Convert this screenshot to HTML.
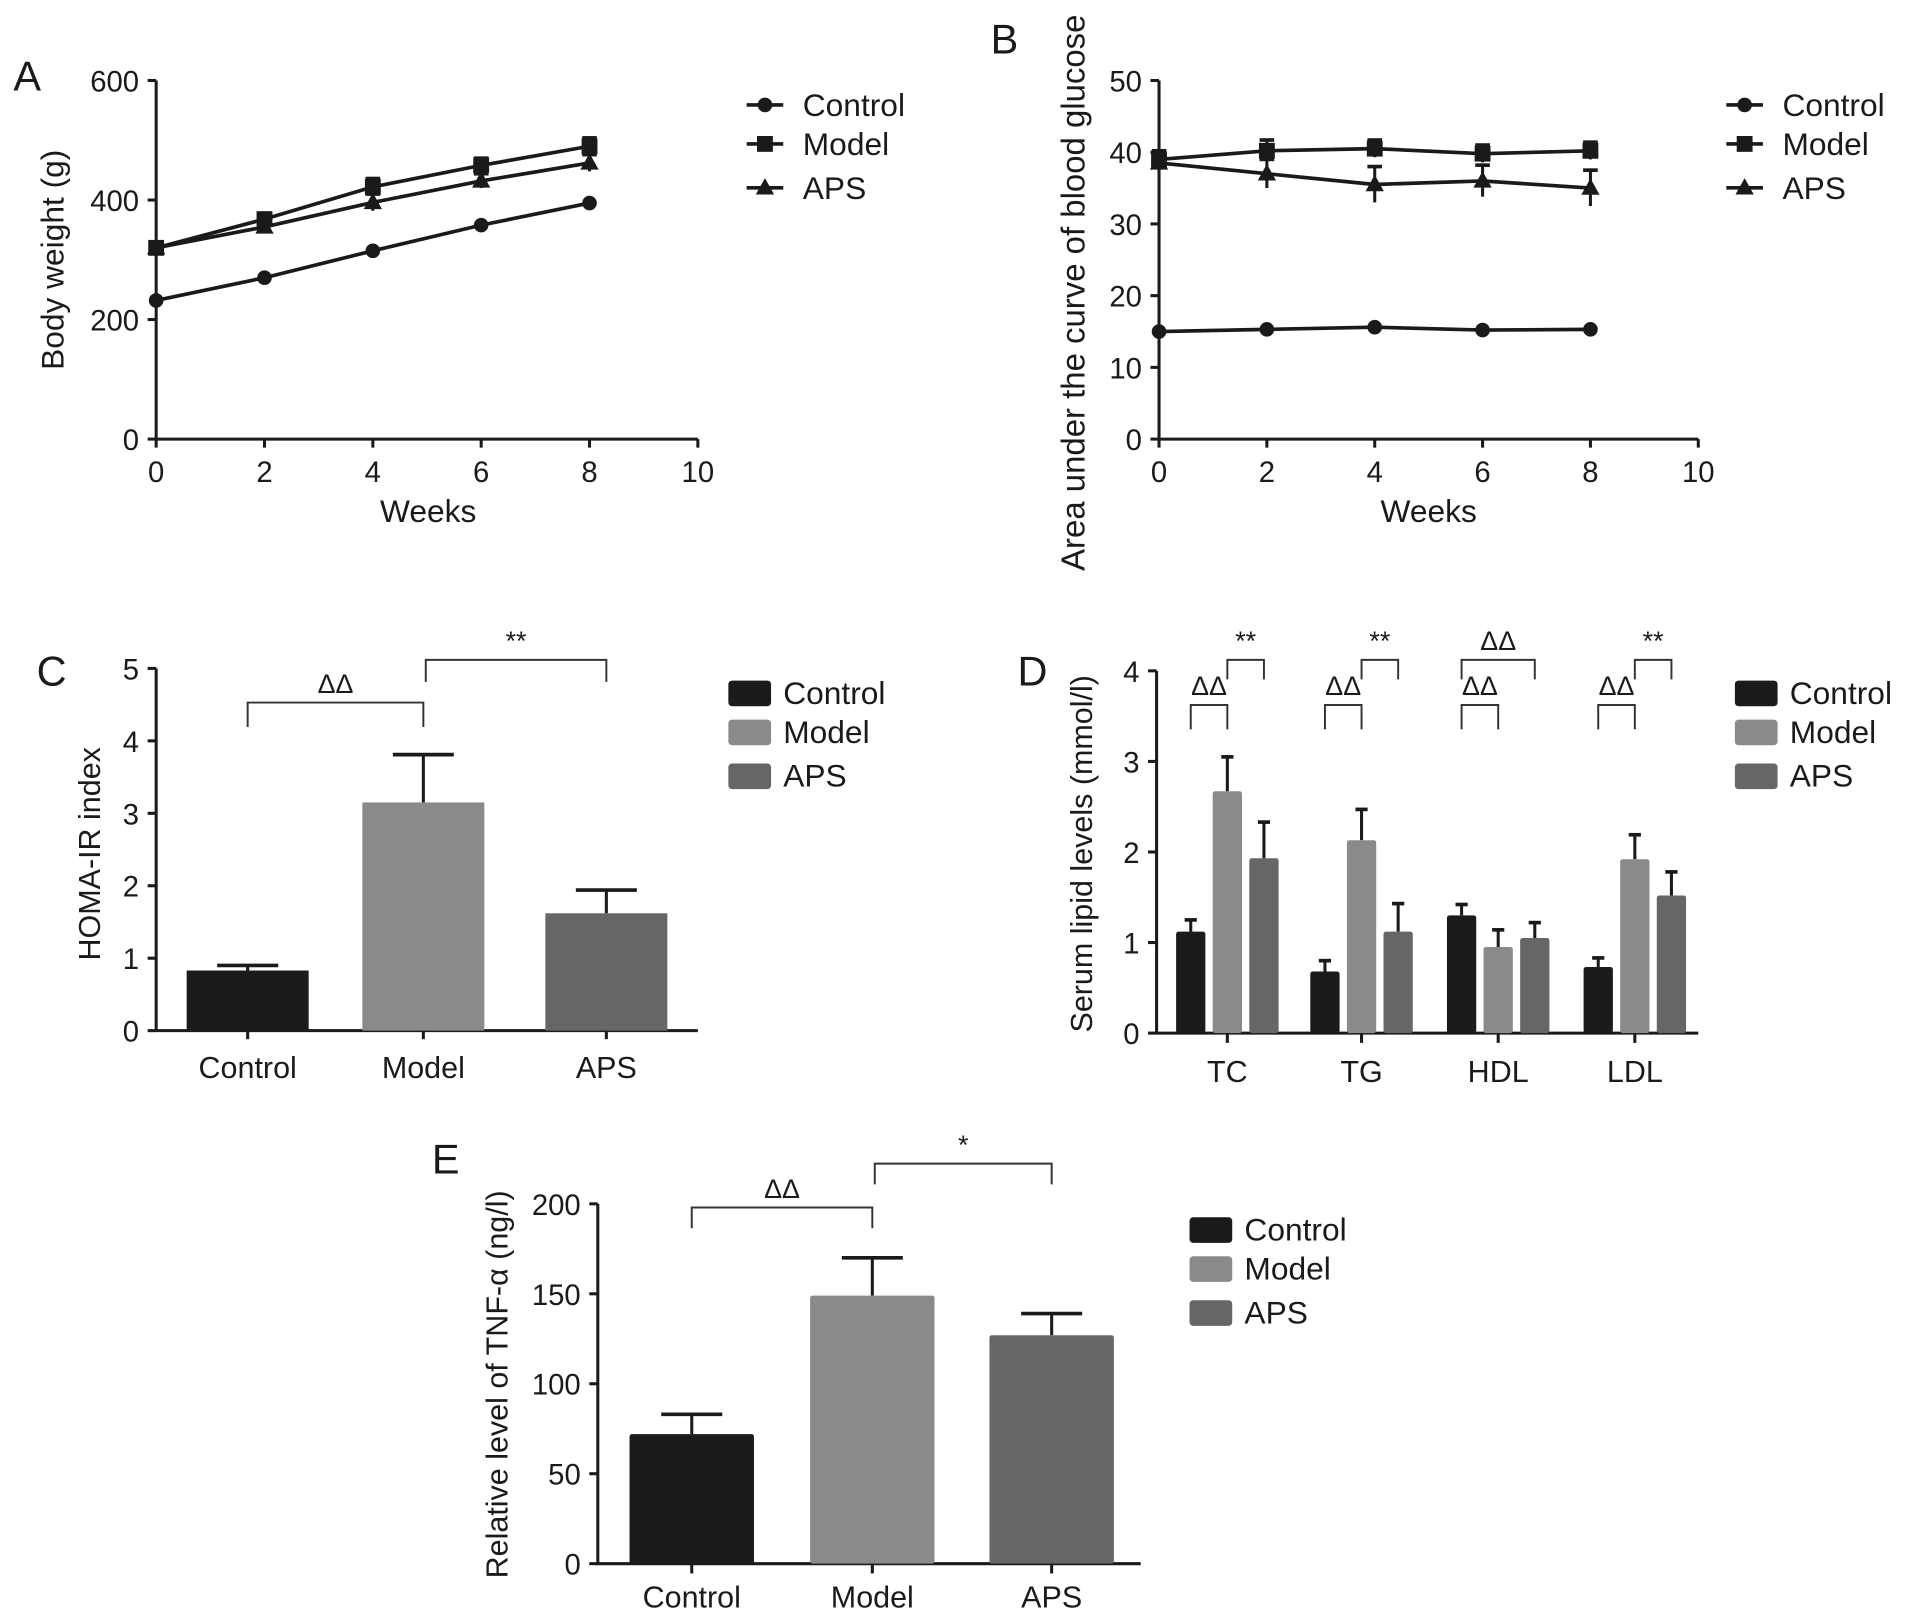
<!DOCTYPE html>
<html><head><meta charset="utf-8"><style>
html,body{margin:0;padding:0;background:#fff;}
svg{display:block;}
text{font-family:"Liberation Sans Narrow","Liberation Sans",sans-serif;fill:#1a1a1a;}
</style></head>
<body>
<svg id="fig" width="1913" height="1621" viewBox="0 0 1568 1329" preserveAspectRatio="none" xmlns="http://www.w3.org/2000/svg"></svg>
<script>
// ---- Panel A data ----
const weeksA = [0, 2, 4, 6, 8];
const bwControl = [232, 270, 315, 358, 395];
const bwModel = [320, 368, 422, 458, 490];
const bwAPS = [320, 355, 396, 432, 462];
const bwErr = [8, 10, 14, 12, 14];
const ticksA = [0, 200, 400, 600];
// ---- Panel B data ----
const aucControl = [15, 15.3, 15.6, 15.2, 15.3];
const aucModel = [39, 40.2, 40.5, 39.8, 40.2];
const aucAPS = [38.5, 37, 35.5, 36, 35];
const aucErrModel = [1.2, 1.5, 1.2, 1.2, 1.2];
const aucErrAPS = [1.2, 2, 2.5, 2.2, 2.5];
const ticksB = [0, 10, 20, 30, 40, 50];
const xTicks = [0, 2, 4, 6, 8, 10];
// ---- Panel C data ----
const groups = ["Control", "Model", "APS"];
const homaVals = [0.83, 3.15, 1.62];
const homaErr = [0.07, 0.66, 0.32];
const ticksC = [0, 1, 2, 3, 4, 5];
// ---- Panel D data ----
const lipidCats = ["TC", "TG", "HDL", "LDL"];
const lipidControl = [1.12, 0.68, 1.3, 0.73];
const lipidModel = [2.67, 2.13, 0.95, 1.92];
const lipidAPS = [1.93, 1.12, 1.05, 1.52];
const lipidErrControl = [0.13, 0.12, 0.12, 0.1];
const lipidErrModel = [0.38, 0.34, 0.19, 0.27];
const lipidErrAPS = [0.4, 0.31, 0.17, 0.26];
const ticksD = [0, 1, 2, 3, 4];
// ---- Panel E data ----
const tnfVals = [72, 149, 127];
const tnfErr = [11, 21, 12];
const ticksE = [0, 50, 100, 150, 200];

const colors = ["#1b1b1b", "#8a8a8a", "#666666"];
const NS = "http://www.w3.org/2000/svg";
const svg = document.getElementById("fig");

function mk(tag, attrs, name, parent) {
  const el = document.createElementNS(NS, tag);
  for (const k in attrs) el.setAttribute(k, attrs[k]);
  
  
  (parent || svg).appendChild(el);
  return el;
}
function txt(x, y, s, size, name, anchor, rot) {
  const a = {x: x, y: y, "font-size": size, "text-anchor": anchor || "middle"};
  if (rot) a.transform = "rotate(-90 " + x + " " + y + ")";
  const t = mk("text", a, name);
  t.textContent = s;
  return t;
}
function line(x1, y1, x2, y2, name, w, col) {
  return mk("line", {x1: x1, y1: y1, x2: x2, y2: y2, stroke: col || "#1a1a1a", "stroke-width": w || 2.5}, name);
}
function lin(d0, d1, r0, r1) { return v => r0 + (v - d0) / (d1 - d0) * (r1 - r0); }

function marker(type, x, y, name) {
  if (type === 0) mk("circle", {cx: x, cy: y, r: 6, fill: "#1a1a1a"}, name);
  else if (type === 1) mk("rect", {x: x - 6.5, y: y - 6.5, width: 13, height: 13, fill: "#1a1a1a"}, name);
  else mk("polygon", {points: (x) + "," + (y - 8) + " " + (x + 7.5) + "," + (y + 5.5) + " " + (x - 7.5) + "," + (y + 5.5), fill: "#1a1a1a"}, name);
}
function legendLines(x, ys, name) {
  const labels = ["Control", "Model", "APS"];
  labels.forEach((l, i) => {
    line(x, ys[i], x + 30, ys[i], name + "-line-" + l.toLowerCase(), 3);
    marker(i, x + 15, ys[i], name + "-marker-" + l.toLowerCase());
    txt(x + 46, ys[i] + 9, l, 26, name + "-label-" + l.toLowerCase(), "start");
  });
}
function legendBars(x, ys, name) {
  const labels = ["Control", "Model", "APS"];
  labels.forEach((l, i) => {
    mk("rect", {x: x, y: ys[i] - 10, width: 35, height: 21, rx: 3, fill: colors[i]}, name + "-swatch-" + l.toLowerCase());
    txt(x + 45, ys[i] + 9, l, 26, name + "-label-" + l.toLowerCase(), "start");
  });
}
function errBar(x, y0, y1, cap, name) {
  line(x, y0, x, y1, name, 2.5);
  line(x - cap, y1, x + cap, y1, name + "-cap", 3);
}
function bracket(x1, x2, y, drop, label, name, lsize) {
  mk("polyline", {points: x1 + "," + (y + drop) + " " + x1 + "," + y + " " + x2 + "," + y + " " + x2 + "," + (y + drop), fill: "none", stroke: "#333", "stroke-width": 1.6}, name);
  txt((x1 + x2) / 2, y - 8, label, lsize || 22, name + "-label");
}

// ================= Panel A =================
(function () {
  const X = lin(0, 10, 128, 572), Y = lin(0, 600, 360, 66);
  txt(11, 74, "A", 34, "panel-a-letter", "start");
  line(128, 66, 128, 361, "panel-a-y-axis");
  line(127, 360, 572, 360, "panel-a-x-axis");
  ticksA.forEach(t => { line(121, Y(t), 128, Y(t), "panel-a-y-tick"); txt(114, Y(t) + 9, String(t), 24, "panel-a-y-tick-label", "end"); });
  xTicks.forEach(t => { line(X(t), 360, X(t), 367, "panel-a-x-tick"); txt(X(t), 395, String(t), 24, "panel-a-x-tick-label"); });
  txt(351, 428, "Weeks", 26, "panel-a-x-axis-title");
  txt(52, 213, "Body weight (g)", 26, "panel-a-y-axis-title", "middle", true);
  const series = [bwControl, bwModel, bwAPS];
  series.forEach((s, si) => {
    const nm = ["control", "model", "aps"][si];
    mk("polyline", {points: weeksA.map((w, i) => X(w) + "," + Y(s[i])).join(" "), fill: "none", stroke: "#1a1a1a", "stroke-width": 3}, "panel-a-line-" + nm);
    weeksA.forEach((w, i) => {
      if (si > 0) errBar(X(w), Y(s[i] - bwErr[i]), Y(s[i] + bwErr[i]), 6, "panel-a-error-" + nm);
      marker(si, X(w), Y(s[i]), "panel-a-point-" + nm);
    });
  });
  legendLines(612, [86, 118, 154], "panel-a-legend");
})();

// ================= Panel B =================
(function () {
  const X = lin(0, 10, 950, 1392), Y = lin(0, 50, 360, 66);
  txt(812, 44, "B", 34, "panel-b-letter", "start");
  line(950, 66, 950, 361, "panel-b-y-axis");
  line(949, 360, 1392, 360, "panel-b-x-axis");
  ticksB.forEach(t => { line(943, Y(t), 950, Y(t), "panel-b-y-tick"); txt(936, Y(t) + 9, String(t), 24, "panel-b-y-tick-label", "end"); });
  xTicks.forEach(t => { line(X(t), 360, X(t), 367, "panel-b-x-tick"); txt(X(t), 395, String(t), 24, "panel-b-x-tick-label"); });
  txt(1171, 428, "Weeks", 26, "panel-b-x-axis-title");
  txt(889, 240, "Area under the curve of blood glucose", 27, "panel-b-y-axis-title", "middle", true);
  const series = [aucControl, aucModel, aucAPS];
  const errs = [null, aucErrModel, aucErrAPS];
  series.forEach((s, si) => {
    const nm = ["control", "model", "aps"][si];
    mk("polyline", {points: weeksA.map((w, i) => X(w) + "," + Y(s[i])).join(" "), fill: "none", stroke: "#1a1a1a", "stroke-width": 3}, "panel-b-line-" + nm);
    weeksA.forEach((w, i) => {
      if (errs[si]) errBar(X(w), Y(s[i] - errs[si][i]), Y(s[i] + errs[si][i]), 6, "panel-b-error-" + nm);
      marker(si, X(w), Y(s[i]), "panel-b-point-" + nm);
    });
  });
  legendLines(1415, [86, 118, 154], "panel-b-legend");
})();

// ================= Panel C =================
(function () {
  const Y = lin(0, 5, 845, 548);
  const cx = [203, 347, 497];
  txt(30, 562, "C", 34, "panel-c-letter", "start");
  line(128, 548, 128, 846, "panel-c-y-axis");
  line(127, 845, 572, 845, "panel-c-x-axis");
  ticksC.forEach(t => { line(121, Y(t), 128, Y(t), "panel-c-y-tick"); txt(114, Y(t) + 9, String(t), 24, "panel-c-y-tick-label", "end"); });
  txt(82, 700, "HOMA-IR index", 25, "panel-c-y-axis-title", "middle", true);
  groups.forEach((g, i) => {
    const y = Y(homaVals[i]);
    errBar(cx[i], y, Y(homaVals[i] + homaErr[i]), 25, "panel-c-error-" + g.toLowerCase());
    mk("rect", {x: cx[i] - 50, y: y, width: 100, height: 845 - y, fill: colors[i]}, "panel-c-bar-" + g.toLowerCase());
    line(cx[i], 845, cx[i], 852, "panel-c-x-tick");
    txt(cx[i], 884, g, 25, "panel-c-x-tick-label");
  });
  bracket(cx[0], cx[1], 576, 20, "ΔΔ", "panel-c-sig-control-model");
  bracket(cx[1] + 2, cx[2], 541, 18, "**", "panel-c-sig-model-aps");
  legendBars(597, [568, 600, 636], "panel-c-legend");
})();

// ================= Panel D =================
(function () {
  const Y = lin(0, 4, 847, 550);
  const gx = [1006, 1116, 1228, 1340];
  const off = [-30, 0, 30];
  const bw = 24;
  txt(834, 562, "D", 34, "panel-d-letter", "start");
  line(948, 550, 948, 848, "panel-d-y-axis");
  line(947, 847, 1392, 847, "panel-d-x-axis");
  ticksD.forEach(t => { line(941, Y(t), 948, Y(t), "panel-d-y-tick"); txt(934, Y(t) + 9, String(t), 24, "panel-d-y-tick-label", "end"); });
  txt(895, 700, "Serum lipid levels (mmol/l)", 25, "panel-d-y-axis-title", "middle", true);
  const vals = [lipidControl, lipidModel, lipidAPS];
  const errs = [lipidErrControl, lipidErrModel, lipidErrAPS];
  lipidCats.forEach((c, ci) => {
    vals.forEach((s, si) => {
      const x = gx[ci] + off[si], y = Y(s[ci]);
      errBar(x, y, Y(s[ci] + errs[si][ci]), 5, "panel-d-error-" + c.toLowerCase());
      mk("rect", {x: x - bw / 2, y: y, width: bw, height: 847 - y, rx: 2, fill: colors[si]}, "panel-d-bar-" + c.toLowerCase() + "-" + groups[si].toLowerCase());
    });
    line(gx[ci], 847, gx[ci], 855, "panel-d-x-tick");
    txt(gx[ci], 887, c, 25, "panel-d-x-tick-label");
  });
  [0, 1, 2, 3].forEach(ci => bracket(gx[ci] - 30, gx[ci], 578, 20, "ΔΔ", "panel-d-sig-control-model", 22));
  [0, 1, 3].forEach(ci => bracket(gx[ci], gx[ci] + 30, 541, 16, "**", "panel-d-sig-model-aps", 22));
  bracket(gx[2] - 30, gx[2] + 30, 541, 16, "ΔΔ", "panel-d-sig-control-aps", 22);
  legendBars(1422, [568, 600, 636], "panel-d-legend");
})();

// ================= Panel E =================
(function () {
  const Y = lin(0, 200, 1282, 987);
  const cx = [567, 715, 862];
  txt(354, 962, "E", 34, "panel-e-letter", "start");
  line(490, 987, 490, 1283, "panel-e-y-axis");
  line(489, 1282, 935, 1282, "panel-e-x-axis");
  ticksE.forEach(t => { line(483, Y(t), 490, Y(t), "panel-e-y-tick"); txt(476, Y(t) + 9, String(t), 24, "panel-e-y-tick-label", "end"); });
  txt(416, 1135, "Relative level of TNF-α (ng/l)", 25, "panel-e-y-axis-title", "middle", true);
  groups.forEach((g, i) => {
    const y = Y(tnfVals[i]);
    errBar(cx[i], y, Y(tnfVals[i] + tnfErr[i]), 25, "panel-e-error-" + g.toLowerCase());
    mk("rect", {x: cx[i] - 51, y: y, width: 102, height: 1282 - y, rx: 2, fill: colors[i]}, "panel-e-bar-" + g.toLowerCase());
    line(cx[i], 1282, cx[i], 1290, "panel-e-x-tick");
    txt(cx[i], 1318, g, 25, "panel-e-x-tick-label");
  });
  bracket(cx[0], cx[1], 990, 17, "ΔΔ", "panel-e-sig-control-model");
  bracket(cx[1] + 2, cx[2], 954, 17, "*", "panel-e-sig-model-aps");
  legendBars(975, [1008, 1040, 1076], "panel-e-legend");
})();
</script>
</body></html>
